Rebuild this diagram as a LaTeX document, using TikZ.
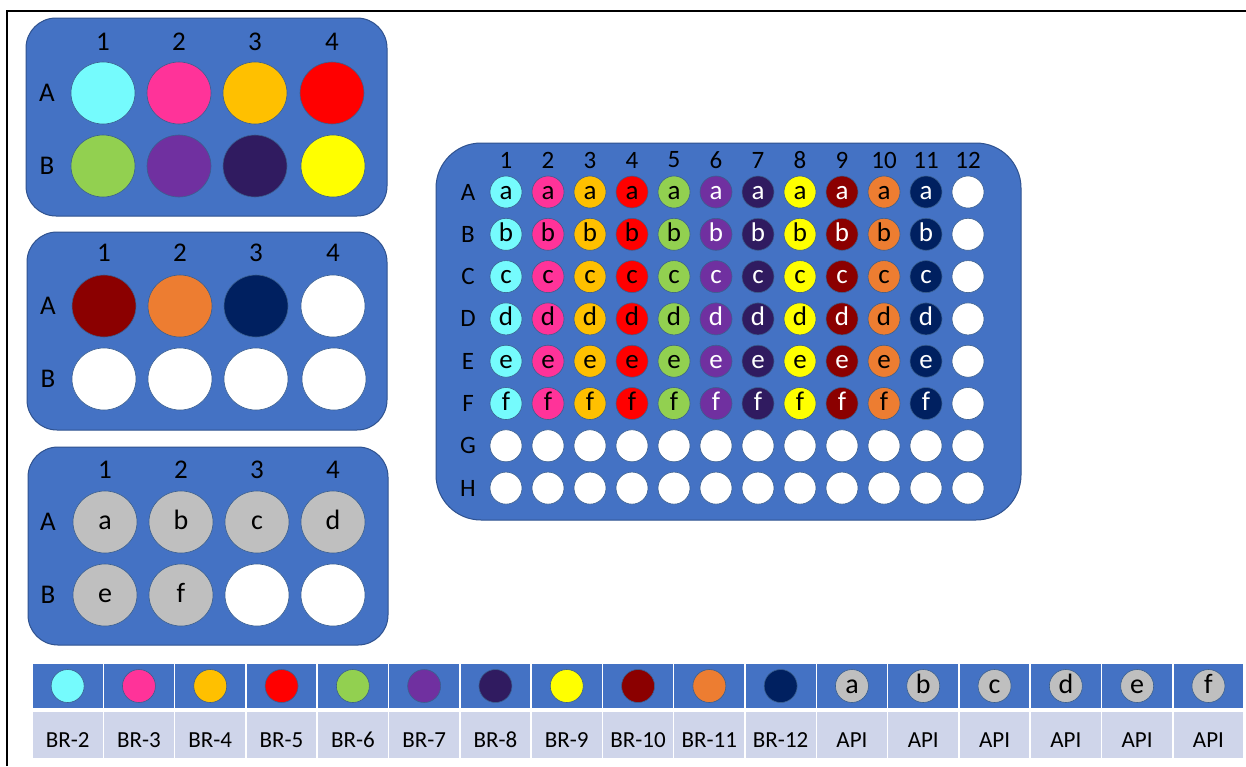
\documentclass[tikz,border=0pt]{standalone}
\usepackage{fontspec}
\setmainfont{Carlito}
\usetikzlibrary{shapes.geometric}
\definecolor{platefill}{HTML}{4472C4}
\definecolor{plateedge}{HTML}{2F528F}
\definecolor{welledge}{HTML}{3A5F8F}
\definecolor{legbg}{HTML}{CFD5EA}
\definecolor{br2}{HTML}{75FBFD}
\definecolor{br3}{HTML}{FF3399}
\definecolor{br4}{HTML}{FFC000}
\definecolor{br5}{HTML}{FF0000}
\definecolor{br6}{HTML}{92D050}
\definecolor{br7}{HTML}{7030A0}
\definecolor{br8}{HTML}{301B60}
\definecolor{br9}{HTML}{FFFF00}
\definecolor{br10}{HTML}{8B0000}
\definecolor{br11}{HTML}{ED7D31}
\definecolor{br12}{HTML}{002060}
\definecolor{api}{HTML}{BFBFBF}
\begin{document}
\begin{tikzpicture}[x=1pt,y=-1pt,
  plate/.style={draw=plateedge, line width=1, fill=platefill, rectangle, inner sep=0pt},
  bigwell/.style={ellipse, draw=welledge, line width=0.6, minimum width=64, minimum height=62, inner sep=0pt,
    font=\fontsize{28}{32}\selectfont, text height=15pt, text depth=0pt},
  smallwell/.style={ellipse, draw=welledge, line width=0.6, minimum width=32, minimum height=32, inner sep=0pt,
    font=\fontsize{27}{30}\selectfont, text height=14pt, text depth=0pt},
  legwell/.style={ellipse, draw=welledge, line width=0.6, minimum width=33, minimum height=33, inner sep=0pt,
    font=\fontsize{28}{30}\selectfont, text height=14pt, text depth=0pt},
  plabel/.style={font=\fontsize{27}{30}\selectfont, inner sep=0pt},
  bplabel/.style={font=\fontsize{25}{28}\selectfont, inner sep=0pt},
  legtop/.style={rectangle, fill=platefill, draw=white, line width=1.5, minimum width=71.3, minimum height=46, inner sep=0pt},
  legbot/.style={rectangle, fill=legbg, draw=white, line width=1.5, minimum width=71.3, minimum height=48, inner sep=0pt},
  legtext/.style={font=\fontsize{23}{26}\selectfont, inner sep=0pt}
]
\useasboundingbox (0,0) rectangle (1246,766);
\fill[white] (0,0) rectangle (1246,766);
\draw[line width=2.2] (7,766) -- (7,11) -- (1246,11);

% ---------- plate 1 ----------
\node[plate, minimum width=361, minimum height=198, rounded corners=30] (plate1) at (206.5,117) {};
\foreach \cx [count=\i] in {103,179,255,332} {
  \node[plabel] (p1c\i) at (\cx,42) {\i};
}
\node[plabel] (p1rA) at (47,93) {A};
\node[plabel] (p1rB) at (47,166) {B};
\foreach \cx/\col [count=\i] in {103/br2,179/br3,255/br4,332/br5} {
  \node[bigwell, fill=\col] (p1A\i) at (\cx,93) {};
}
\foreach \cx/\col [count=\i] in {103/br6,179/br7,255/br8,333/br9} {
  \node[bigwell, fill=\col] (p1B\i) at (\cx,166) {};
}

% ---------- plate 2 ----------
\node[plate, minimum width=360, minimum height=198, rounded corners=30] (plate2) at (207,331) {};
\foreach \cx [count=\i] in {104,180,256,333} {
  \node[plabel] (p2c\i) at (\cx,253) {\i};
}
\node[plabel] (p2rA) at (48,306) {A};
\node[plabel] (p2rB) at (48,379) {B};
\foreach \cx/\col [count=\i] in {104/br10,180/br11,256/br12,333/white} {
  \node[bigwell, fill=\col] (p2A\i) at (\cx,306) {};
}
\foreach \cx [count=\i] in {104,180,256,334} {
  \node[bigwell, fill=white] (p2B\i) at (\cx,379) {};
}

% ---------- plate 3 ----------
\node[plate, minimum width=360, minimum height=198, rounded corners=30] (plate3) at (208,546) {};
\foreach \cx [count=\i] in {105,181,257,333} {
  \node[plabel] (p3c\i) at (\cx,470) {\i};
}
\node[plabel] (p3rA) at (48,522) {A};
\node[plabel] (p3rB) at (48,595) {B};
\foreach \cx/\l [count=\i] in {105/a,181/b,257/c,333/d} {
  \node[bigwell, fill=api] (p3A\i) at (\cx,522) {\l};
}
\node[bigwell, fill=api] (p3B1) at (105,595) {e};
\node[bigwell, fill=api] (p3B2) at (181,595) {f};
\node[bigwell, fill=white] (p3B3) at (257,595) {};
\node[bigwell, fill=white] (p3B4) at (333,595) {};

% ---------- 96-well plate ----------
\node[plate, minimum width=585, minimum height=377, rounded corners=45] (big) at (728.5,331.5) {};
\foreach \i in {1,...,12} {
  \node[bplabel] (bc\i) at ({506+42*(\i-1)},160) {\i};
}
\foreach \r [count=\j] in {A,B,C,D,E,F,G,H} {
  \node[bplabel] (br\r) at (468,{192+42.3*(\j-1)}) {\r};
}
\foreach \col/\tc [count=\i] in {br2/black,br3/black,br4/black,br5/black,br6/black,br7/white,
                                 br8/white,br9/black,br10/white,br11/black,br12/white} {
  \foreach \l [count=\j] in {a,b,c,d,e,f} {
    \node[smallwell, fill=\col, text=\tc] (w\j-\i) at ({506+42*(\i-1)},{192+42.3*(\j-1)}) {\l};
  }
}
\foreach \j in {1,...,6} {
  \node[smallwell, fill=white] (w\j-12) at (968,{192+42.3*(\j-1)}) {};
}
\foreach \j in {7,8} {
  \foreach \i in {1,...,12} {
    \node[smallwell, fill=white] (w\j-\i) at ({506+42*(\i-1)},{192+42.3*(\j-1)}) {};
  }
}

% ---------- legend ----------
\foreach \col/\txt/\l [count=\k from 0] in {br2/BR-2/{},br3/BR-3/{},br4/BR-4/{},br5/BR-5/{},br6/BR-6/{},
   br7/BR-7/{},br8/BR-8/{},br9/BR-9/{},br10/BR-10/{},br11/BR-11/{},br12/BR-12/{},
   api/API/a,api/API/b,api/API/c,api/API/d,api/API/e,api/API/f} {
  \node[legtop] (lt\k) at ({32+71.3*\k+35.65},686) {};
  \node[legbot] (lb\k) at ({32+71.3*\k+35.65},735) {};
  \node[legwell, fill=\col] (lw\k) at (lt\k.center) {\l};
  \node[legtext] (ll\k) at ([yshift=-5]lb\k.center) {\txt};
}
\end{tikzpicture}
\end{document}
